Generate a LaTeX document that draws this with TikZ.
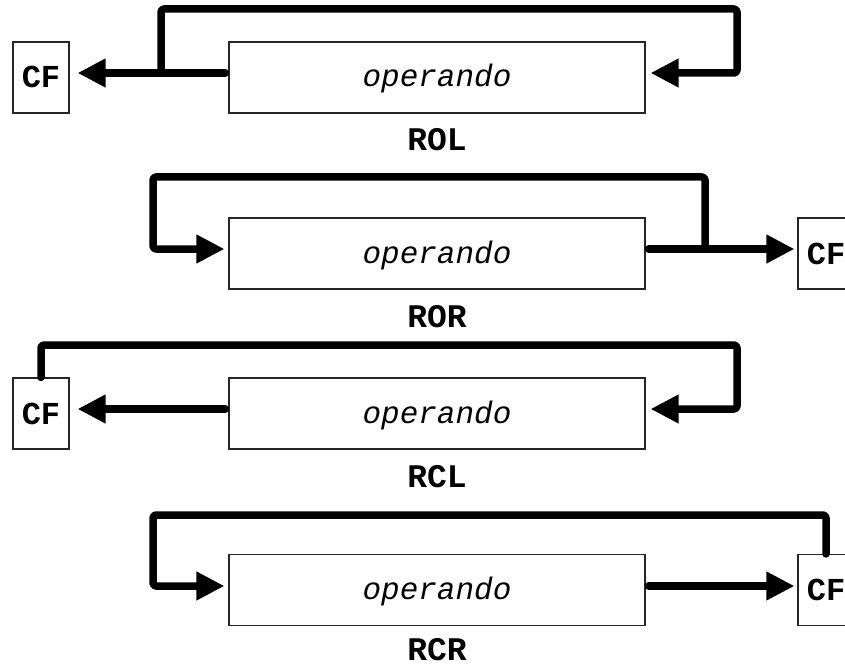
\documentclass[tikz,border=0pt]{standalone}
\usepackage{fontspec}
\setmonofont{Liberation Mono}
\usetikzlibrary{arrows.meta,calc}

\tikzset{
  opbox/.style={draw=black!85, line width=1.1pt, minimum width=416pt, minimum height=71pt,
    inner sep=0pt},
  flagbox/.style={draw=black!85, line width=1.1pt, minimum width=56pt, minimum height=71pt,
    inner sep=0pt},
  flagtext/.style={font=\fontsize{32}{38}\selectfont\ttfamily\bfseries, anchor=base, inner sep=0pt},
  oplabel/.style={font=\fontsize{33}{39}\selectfont\ttfamily\bfseries, anchor=base, inner sep=0pt},
  optext/.style={font=\fontsize{31}{37}\selectfont\ttfamily\itshape, anchor=base, inner sep=0pt},
  bitflow/.style={line width=7.5pt, line cap=round, line join=round, rounded corners=3pt,
    -{Triangle[length=28pt,width=27pt]}},
}

\begin{document}
\begin{tikzpicture}[x=1pt,y=-1pt]
\useasboundingbox (0,0) rectangle (845,668);

% ---------------- ROL ----------------
\node[opbox]   (op1) at (437,77.5) {};
\node[optext]  (t1)  at (437,87) {operando};
\node[flagbox] (cf1) at (41,77.5) {};
\node[flagtext] (c1) at (41,88) {CF};
\node[oplabel] (l1)  at (437,151) {ROL};
\coordinate (j1) at (161,73);
\draw[bitflow, shorten >=8pt] ([xshift=-3pt,yshift=4.5pt]op1.west) -- ([yshift=4.5pt]cf1.east);
\draw[bitflow] (j1) -- (161,9) -- (737,9) -- (737,73) -- ([xshift=5pt,yshift=4.5pt]op1.east);

% ---------------- ROR ----------------
\node[opbox]   (op2) at (437,253.5) {};
\node[optext]  (t2)  at (437,263) {operando};
\node[flagbox] (cf2) at (826,253.5) {};
\node[flagtext] (c2) at (826,264) {CF};
\node[oplabel] (l2)  at (437,327) {ROR};
\coordinate (j2) at (705,249);
\draw[bitflow, shorten >=3pt] ([xshift=3pt,yshift=4.5pt]op2.east) -- ([yshift=4.5pt]cf2.west);
\draw[bitflow] (j2) -- (705,177) -- (153,177) -- (153,249) -- ([xshift=-4pt,yshift=4.5pt]op2.west);

% ---------------- RCL ----------------
\node[opbox]   (op3) at (437,413.5) {};
\node[optext]  (t3)  at (437,423) {operando};
\node[flagbox] (cf3) at (41,413.5) {};
\node[flagtext] (c3) at (41,424) {CF};
\node[oplabel] (l3)  at (437,487) {RCL};
\draw[bitflow, shorten >=8pt] ([xshift=-3pt,yshift=4.5pt]op3.west) -- ([yshift=4.5pt]cf3.east);
\draw[bitflow] (cf3.north) -- (41,345) -- (737,345) -- (737,409) -- ([xshift=5pt,yshift=4.5pt]op3.east);

% ---------------- RCR ----------------
\node[opbox]   (op4) at (437,590) {};
\node[optext]  (t4)  at (437,599.5) {operando};
\node[flagbox] (cf4) at (826,590) {};
\node[flagtext] (c4) at (826,600.5) {CF};
\node[oplabel] (l4)  at (437,660) {RCR};
\draw[bitflow, shorten >=3pt] ([xshift=3pt,yshift=4pt]op4.east) -- ([yshift=4pt]cf4.west);
\draw[bitflow] (cf4.north) -- (826,515) -- (153,515) -- (153,586) -- ([xshift=-4pt,yshift=4pt]op4.west);
\end{tikzpicture}
\end{document}
